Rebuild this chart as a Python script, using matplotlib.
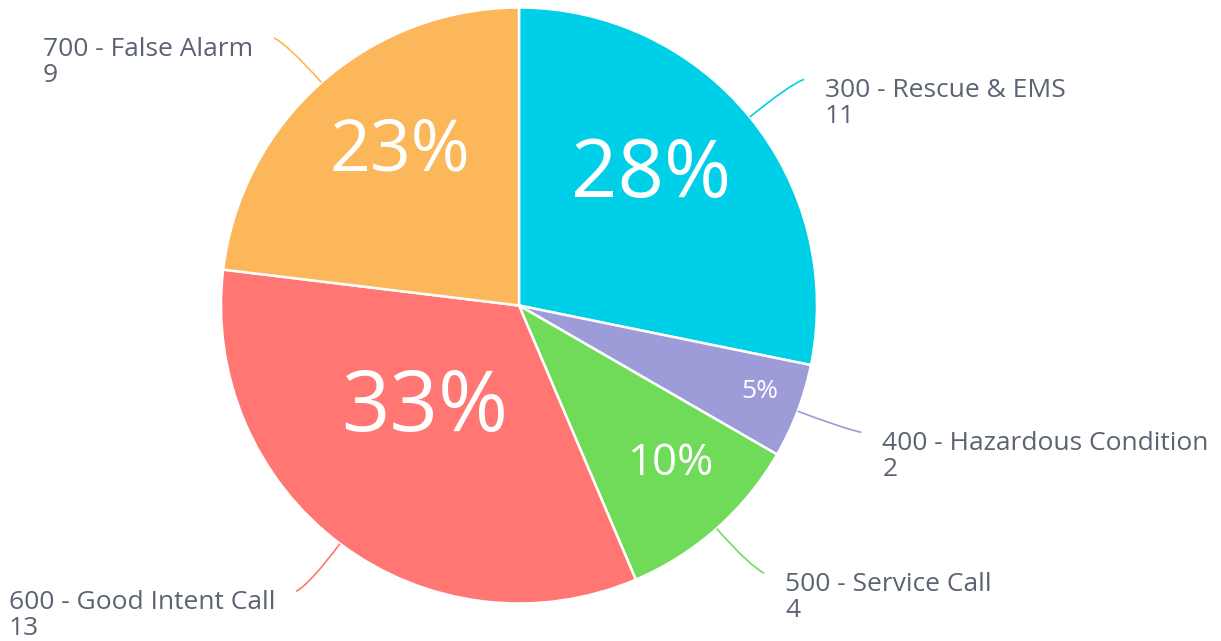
import numpy as np
import matplotlib.pyplot as plt
from matplotlib.path import Path
from matplotlib.patches import PathPatch

plt.rcParams['font.family'] = ['Open Sans', 'DejaVu Sans']

names = ['300 - Rescue & EMS', '400 - Hazardous Condition', '500 - Service Call',
         '600 - Good Intent Call', '700 - False Alarm']
counts = [11, 2, 4, 13, 9]
colors = ['#00CFE8', '#9E9CD8', '#70DB58', '#FF7672', '#FBB75A']

# percent label look (size in pt, radius as fraction of R, angle nudge in deg)
pct_size = [58.5, 19, 31.5, 61, 51.5]
pct_r = [0.64, 0.855, 0.725, 0.45, 0.67]
pct_nudge = [7, 1.8, 3.2, -8, -5]

W, H = 1221, 641
fig = plt.figure(figsize=(W / 100, H / 100), dpi=100)
ax = fig.add_axes([0, 0, 1, 1])

cx, cy, R = 519, H - 305.5, 298
wedges, _ = ax.pie(counts, colors=colors, startangle=90, counterclock=False,
                   center=(cx, cy), radius=R, frame=True,
                   wedgeprops=dict(edgecolor='white', linewidth=1.8))
ax.set_xlim(0, W)
ax.set_ylim(0, H)
ax.set_aspect('equal')
ax.axis('off')

total = sum(counts)
txt_col = '#5B6373'
for i, w in enumerate(wedges):
    mid = np.deg2rad((w.theta1 + w.theta2) / 2)
    # percentage inside
    a = mid + np.deg2rad(pct_nudge[i])
    px = cx + pct_r[i] * R * np.cos(a)
    py = cy + pct_r[i] * R * np.sin(a)
    cap = 0.714 * pct_size[i] * 100 / 72
    ax.text(px, py - cap / 2, '%d%%' % round(100 * counts[i] / total),
            ha='center', va='baseline', color='white', fontsize=pct_size[i])

    # leader line
    c, s = np.cos(mid), np.sin(mid)
    side = 1 if c >= 0 else -1
    p0 = (cx + R * c, cy + R * s)
    p1 = (cx + 1.17 * R * c, cy + 1.17 * R * s)
    p2 = (cx + 1.2 * R * c + 8 * side, cy + 1.2 * R * s)
    path = Path([p0, p1, p2], [Path.MOVETO, Path.CURVE3, Path.CURVE3])
    ax.add_patch(PathPatch(path, fc='none', ec=colors[i], lw=1.2))

    # two-line label, baseline of last line set
    tx = p2[0] + 21 * side
    ax.text(tx, p2[1] - 44, '%s\n%d' % (names[i], counts[i]),
            ha='left' if side > 0 else 'right', multialignment='left',
            va='baseline', color=txt_col, fontsize=19, linespacing=1.05)

fig.savefig('out.png', dpi=100)
